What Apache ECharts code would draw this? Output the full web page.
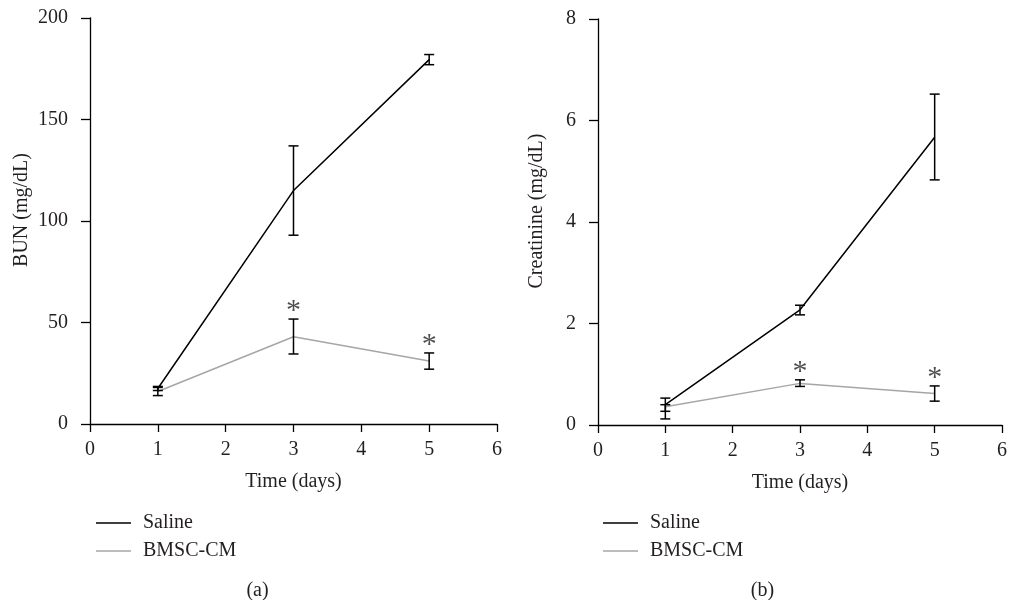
<!DOCTYPE html>
<html>
<head>
<meta charset="utf-8">
<script src="https://cdn.jsdelivr.net/npm/echarts@6/dist/echarts.min.js"></script>
<style>
html,body{margin:0;padding:0;background:#fff;}
#main{width:1010px;height:600px;}
</style>
</head>
<body>
<div id="main"></div>
<script>
// ---- data ----
var days = [1, 3, 5];
var seriesNames = ['Saline', 'BMSC-CM'];

var bunSaline     = [17.5, 115, 179.5];
var bunSalineLow  = [16.5, 93, 177];
var bunSalineHigh = [18.5, 137, 182];
var bunBmsc       = [16, 43, 31];
var bunBmscLow    = [14, 34.5, 27];
var bunBmscHigh   = [18, 51.7, 35];

var crSaline      = [0.40, 2.27, 5.67];
var crSalineLow   = [0.27, 2.17, 4.83];
var crSalineHigh  = [0.53, 2.36, 6.52];
var crBmsc        = [0.36, 0.82, 0.62];
var crBmscLow     = [0.12, 0.76, 0.47];
var crBmscHigh    = [0.40, 0.89, 0.77];

var significantIdx = [1, 2]; // days 3 and 5 marked with *

var panelLabels = ['(a)', '(b)'];
var yTitles = ['BUN (mg/dL)', 'Creatinine (mg/dL)'];
var xTitle = 'Time (days)';

// ---- helpers ----
var FONT = 'Liberation Serif';
var TXT = '#231f20';
function pts(ys) { return days.map(function (d, i) { return [d, ys[i]]; }); }
function bars(lo, hi) { return days.map(function (d, i) { return [d, lo[i], hi[i]]; }); }
function stars(hi) { return significantIdx.map(function (i) { return [days[i], hi[i]]; }); }

function errRender(params, api) {
  var x = api.value(0), lo = api.value(1), hi = api.value(2);
  var a = api.coord([x, lo]), b = api.coord([x, hi]);
  var w = 5;
  var st = { stroke: '#000', lineWidth: 1.5 };
  return {
    type: 'group',
    children: [
      { type: 'line', shape: { x1: a[0], y1: a[1], x2: b[0], y2: b[1] }, style: st },
      { type: 'line', shape: { x1: a[0] - w, y1: a[1], x2: a[0] + w, y2: a[1] }, style: st },
      { type: 'line', shape: { x1: b[0] - w, y1: b[1], x2: b[0] + w, y2: b[1] }, style: st }
    ]
  };
}

function xAxisDef(gi) {
  return {
    type: 'value', gridIndex: gi, min: 0, max: 6, interval: 1,
    name: xTitle, nameLocation: 'middle', nameGap: 48,
    nameTextStyle: { fontFamily: FONT, fontSize: 20, color: TXT },
    axisLine: { show: true, onZero: false, lineStyle: { color: '#000', width: 1.3 } },
    axisTick: { show: true, length: 8, lineStyle: { color: '#000', width: 1.3 } },
    axisLabel: { margin: 16, fontFamily: FONT, fontSize: 20, color: TXT },
    splitLine: { show: false }
  };
}
function yAxisDef(gi, max, interval, gap) {
  return {
    type: 'value', gridIndex: gi, min: 0, max: max, interval: interval,
    name: yTitles[gi], nameLocation: 'middle', nameGap: gap, nameRotate: 90,
    nameTextStyle: { fontFamily: FONT, fontSize: 20, color: TXT, padding: [0, 0, 0, 22] },
    axisLine: { show: true, lineStyle: { color: '#000', width: 1.3 } },
    axisTick: { show: true, length: 9, lineStyle: { color: '#000', width: 1.3 } },
    axisLabel: { margin: 22, fontFamily: FONT, fontSize: 20, color: TXT },
    splitLine: { show: false }
  };
}
function lineSeries(name, data, gi, color) {
  return {
    name: name, type: 'line', xAxisIndex: gi, yAxisIndex: gi, data: data,
    symbol: 'none', lineStyle: { color: color, width: 1.5 }, itemStyle: { color: color },
    animation: false, z: 3
  };
}
function errSeries(data, gi) {
  return {
    type: 'custom', xAxisIndex: gi, yAxisIndex: gi, data: data,
    renderItem: errRender, encode: { x: 0, y: [1, 2] }, animation: false, z: 4, silent: true
  };
}
function starSeries(data, gi) {
  return {
    type: 'scatter', xAxisIndex: gi, yAxisIndex: gi, data: data,
    symbolSize: 0, silent: true, animation: false,
    label: { show: true, position: 'top', distance: -7, formatter: '*',
             fontFamily: FONT, fontSize: 30, color: TXT }
  };
}
function legendDef(left) {
  return {
    orient: 'vertical', left: left, top: 508, itemWidth: 35, itemHeight: 1.6, itemGap: 8,
    icon: 'rect', data: seriesNames, selectedMode: false,
    textStyle: { fontFamily: FONT, fontSize: 20, color: TXT, padding: [0, 0, 0, 7], lineHeight: 20 }
  };
}

var chart = echarts.init(document.getElementById('main'), null, { renderer: 'canvas' });
chart.setOption({
  backgroundColor: '#fff',
  animation: false,
  title: [
    { text: panelLabels[0], left: '25%', top: 576, textAlign: 'center',
      textStyle: { fontFamily: FONT, fontSize: 20, fontWeight: 'normal', color: TXT } },
    { text: panelLabels[1], left: '75%', top: 576, textAlign: 'center',
      textStyle: { fontFamily: FONT, fontSize: 20, fontWeight: 'normal', color: TXT } }
  ],
  legend: [legendDef(91), legendDef(598)],
  grid: [
    { left: 90, top: 18, width: 407, height: 406 },
    { left: 598, top: 19, width: 407, height: 406 }
  ],
  xAxis: [xAxisDef(0), xAxisDef(1)],
  yAxis: [yAxisDef(0, 200, 50, 58), yAxisDef(1, 8, 2, 51)],
  series: [
    lineSeries(seriesNames[0], pts(bunSaline), 0, '#000'),
    lineSeries(seriesNames[1], pts(bunBmsc), 0, '#a6a6a6'),
    errSeries(bars(bunSalineLow, bunSalineHigh), 0),
    errSeries(bars(bunBmscLow, bunBmscHigh), 0),
    starSeries(stars(bunBmscHigh), 0),
    lineSeries(seriesNames[0], pts(crSaline), 1, '#000'),
    lineSeries(seriesNames[1], pts(crBmsc), 1, '#a6a6a6'),
    errSeries(bars(crSalineLow, crSalineHigh), 1),
    errSeries(bars(crBmscLow, crBmscHigh), 1),
    starSeries(stars(crBmscHigh), 1)
  ]
});
</script>
</body>
</html>
